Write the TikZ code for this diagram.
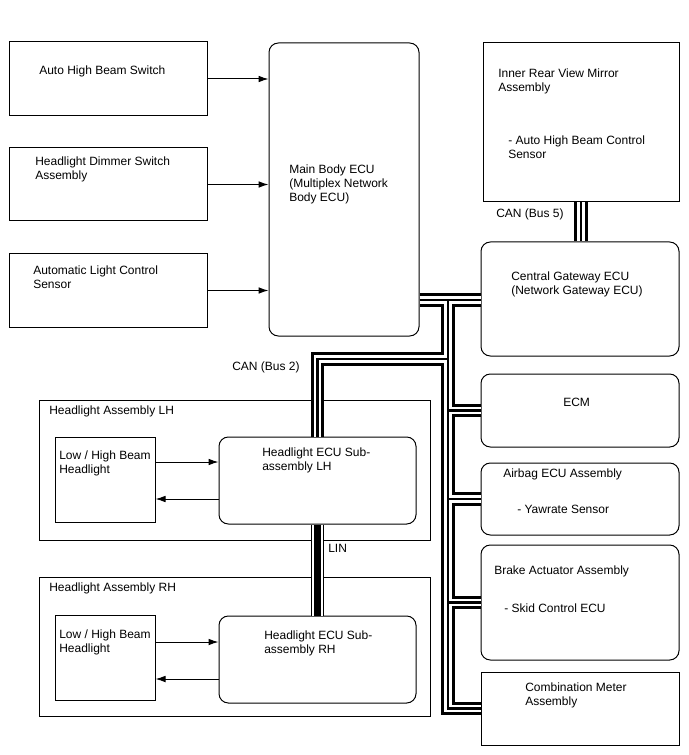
\documentclass[tikz,border=0pt]{standalone}
\usepackage{fontspec}
\setmainfont{Liberation Sans}
\usetikzlibrary{fit,calc,arrows.meta}
\begin{document}
\begin{tikzpicture}[x=0.75pt,y=-0.75pt,
  box/.style={draw,line width=0.75pt,inner sep=0pt},
  rbox/.style={box,rounded corners=7pt},
  lbl/.style={anchor=north west,inner sep=0pt,align=left,font=\fontsize{9pt}{10.5pt}\selectfont},
  arr/.style={line width=0.75pt,-{Latex[length=7.5pt,width=5pt]}},
  busA/.style={line width=9.9pt,black,line join=miter},
  busB/.style={line width=5.4pt,white,line join=miter},
  busC/.style={line width=1.8pt,black,line join=miter},
  linA/.style={line width=9.75pt,black},
  linB/.style={line width=8.1pt,white},
  linC/.style={line width=4.9pt,black}]
\useasboundingbox (0,0) rectangle (688,755);
% boxes
\node[box,fit={(9,42)(207,116)}] (ahb) {};
\node[box,fit={(9,148)(207,221)}] (hds) {};
\node[box,fit={(9,254)(207,327)}] (als) {};
\node[rbox,fit={(269,43)(419,336)}] (mb) {};
\node[box,fit={(483,43)(679,202)}] (irm) {};
\node[rbox,fit={(481,242)(679,356)}] (cgw) {};
\node[rbox,fit={(481,374)(679,447)}] (ecm) {};
\node[rbox,fit={(481,463)(679,535)}] (abg) {};
\node[rbox,fit={(481,545)(679,660)}] (bra) {};
\node[box,fit={(481,672)(679,745)}] (cm) {};
\node[box,fit={(39,400)(430,540)}] (hal) {};
\node[box,fit={(55,437)(155,522)}] (lhl) {};
\node[rbox,fit={(219,437)(416,524)}] (ecl) {};
\node[box,fit={(39,577)(430,716)}] (har) {};
\node[box,fit={(55,615)(155,700)}] (lhr) {};
\node[rbox,fit={(219,616)(416,703)}] (ecr) {};
% arrows
\draw[arr] (ahb.east) -- (mb.west |- ahb.east);
\draw[arr] (hds.east) -- (mb.west |- hds.east);
\draw[arr] (als.east) -- (mb.west |- als.east);
\coordinate (l1) at ($(lhl.east)+(0,-17.5)$);
\coordinate (l2) at ($(lhl.east)+(0,19.5)$);
\coordinate (r1) at ($(lhr.east)+(0,-15.5)$);
\coordinate (r2) at ($(lhr.east)+(0,21.5)$);
\draw[arr] (l1) -- (l1 -| ecl.west);
\draw[arr] (l2 -| ecl.west) -- (l2);
\draw[arr] (r1) -- (r1 -| ecr.west);
\draw[arr] (r2 -| ecr.west) -- (r2);
% bus junctions
\coordinate (j0) at (448,300);
\coordinate (b2) at (448,359);
% CAN buses (three layers)
\foreach \s in {busA,busB,busC}{
  \draw[\s] (mb.east |- j0) -- (cgw.west |- j0);
  \draw[\s] (j0) |- (cm.west);
  \draw[\s] (j0 |- ecm.west) -- (ecm.west);
  \draw[\s] (j0 |- abg.west) -- (abg.west);
  \draw[\s] (j0 |- bra.west) -- (bra.west);
  \draw[\s] (b2) -| (ecl.north);
  \draw[\s] (irm.south) -- (irm.south |- cgw.north);
}
% LIN
\foreach \s in {linA,linB,linC}{
  \draw[\s] (ecl.south) -- (ecr.north);
}
% texts
\node[lbl] (t1) at (39,65.5) {Auto High Beam Switch};
\node[lbl] (t2) at (35,156.5) {Headlight Dimmer Switch\\Assembly};
\node[lbl] (t3) at (33,265.5) {Automatic Light Control\\Sensor};
\node[lbl] (t4) at (289,164.5) {Main Body ECU\\(Multiplex Network\\Body ECU)};
\node[lbl] (t5) at (498,68.5) {Inner Rear View Mirror\\Assembly};
\node[lbl] (t6) at (508,135.5) {- Auto High Beam Control\\Sensor};
\node[lbl] (t7) at (496,208.5) {CAN (Bus 5)};
\node[lbl] (t8) at (511,271.5) {Central Gateway ECU\\(Network Gateway ECU)};
\node[lbl] (t9) at (563,397.5) {ECM};
\node[lbl] (t10) at (503,468.5) {Airbag ECU Assembly};
\node[lbl] (t11) at (517,504.5) {- Yawrate Sensor};
\node[lbl] (t12) at (494,565.5) {Brake Actuator Assembly};
\node[lbl] (t13) at (504,603.5) {- Skid Control ECU};
\node[lbl] (t14) at (525,682.5) {Combination Meter\\Assembly};
\node[lbl] (t15) at (232,361.5) {CAN (Bus 2)};
\node[lbl] (t16) at (49,405.5) {Headlight Assembly LH};
\node[lbl] (t17) at (59,450.5) {Low / High Beam\\Headlight};
\node[lbl] (t18) at (262,447.5) {Headlight ECU Sub-\\assembly LH};
\node[lbl] (t19) at (328,543.5) {LIN};
\node[lbl] (t20) at (49,582.5) {Headlight Assembly RH};
\node[lbl] (t21) at (59,629.5) {Low / High Beam\\Headlight};
\node[lbl] (t22) at (264,630.5) {Headlight ECU Sub-\\assembly RH};
\end{tikzpicture}
\end{document}
